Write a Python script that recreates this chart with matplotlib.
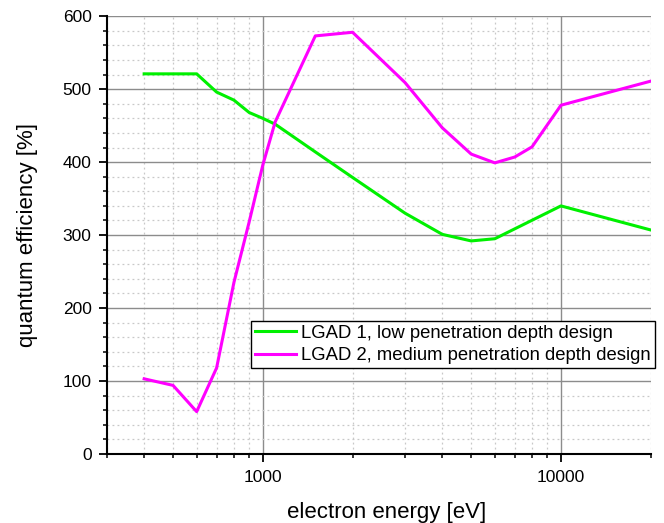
import numpy as np
import matplotlib
matplotlib.use("Agg")
import matplotlib.pyplot as plt
from matplotlib.ticker import LogLocator, MultipleLocator, NullFormatter, FixedLocator, FixedFormatter

plt.rcParams['font.family'] = ['Liberation Sans', 'DejaVu Sans']

# data
energy_lgad1 = [400, 500, 600, 700, 800, 900, 1000, 1100, 1500, 2000, 3000, 4000, 5000, 6000, 10000, 20000]
qe_lgad1 = [521, 521, 521, 496, 485, 468, 460, 452, 414, 379, 330, 301, 292, 295, 340, 307]

energy_lgad2 = [400, 500, 600, 700, 800, 900, 1000, 1100, 1500, 2000, 3000, 4000, 5000, 6000, 7000, 8000, 10000, 20000]
qe_lgad2 = [103, 94, 58, 118, 235, 318, 396, 455, 573, 578, 509, 447, 411, 399, 407, 421, 478, 511]

label1 = "LGAD 1, low penetration depth design"
label2 = "LGAD 2, medium penetration depth design"

fig = plt.figure(figsize=(6.64, 5.23), dpi=100)
ax = fig.add_axes([0.161, 0.132, 0.819, 0.837])

ax.plot(energy_lgad1, qe_lgad1, color='#00f000', lw=2.2, label=label1, zorder=3)
ax.plot(energy_lgad2, qe_lgad2, color='#ff00ff', lw=2.2, label=label2, zorder=3)

ax.set_xscale('log')
ax.set_xlim(300, 20000)
ax.set_ylim(0, 600)

# ticks
ax.xaxis.set_major_locator(FixedLocator([1000, 10000]))
ax.xaxis.set_major_formatter(FixedFormatter(['1000', '10000']))
ax.xaxis.set_minor_locator(LogLocator(base=10, subs=np.arange(2, 10)))
ax.xaxis.set_minor_formatter(NullFormatter())
ax.yaxis.set_major_locator(MultipleLocator(100))
ax.yaxis.set_minor_locator(MultipleLocator(20))

ax.tick_params(which='major', direction='out', length=6, width=1.3, labelsize=12.5, colors='black')
ax.tick_params(axis='x', which='major', pad=5.5)
ax.tick_params(axis='y', which='major', pad=5)
ax.tick_params(which='minor', direction='out', length=3, width=1.1)

# grid
ax.grid(which='major', color='#8c8c8c', lw=1.0, ls='-', zorder=1)
ax.grid(which='minor', color='#c8c8c8', lw=0.9, ls=(0, (1.5, 2.5)), zorder=0)
ax.set_axisbelow(True)

for side in ['top', 'right']:
    ax.spines[side].set_visible(False)
for side in ['left', 'bottom']:
    ax.spines[side].set_linewidth(1.5)

ax.set_xlabel("electron energy [eV]", fontsize=16, labelpad=12)
ax.xaxis.label.set_x(0.515)
ax.set_ylabel("quantum efficiency [%]", fontsize=16, labelpad=18)

leg = ax.legend(loc='upper right', bbox_to_anchor=(1.0074, 0.304), borderaxespad=0,
                fontsize=13.3, fancybox=False, framealpha=1, edgecolor='black',
                handlelength=2.2, handletextpad=0.3, borderpad=0.22, labelspacing=0.28)
leg.get_frame().set_linewidth(1.0)
leg.set_zorder(5)

fig.savefig("out.png", dpi=100)
